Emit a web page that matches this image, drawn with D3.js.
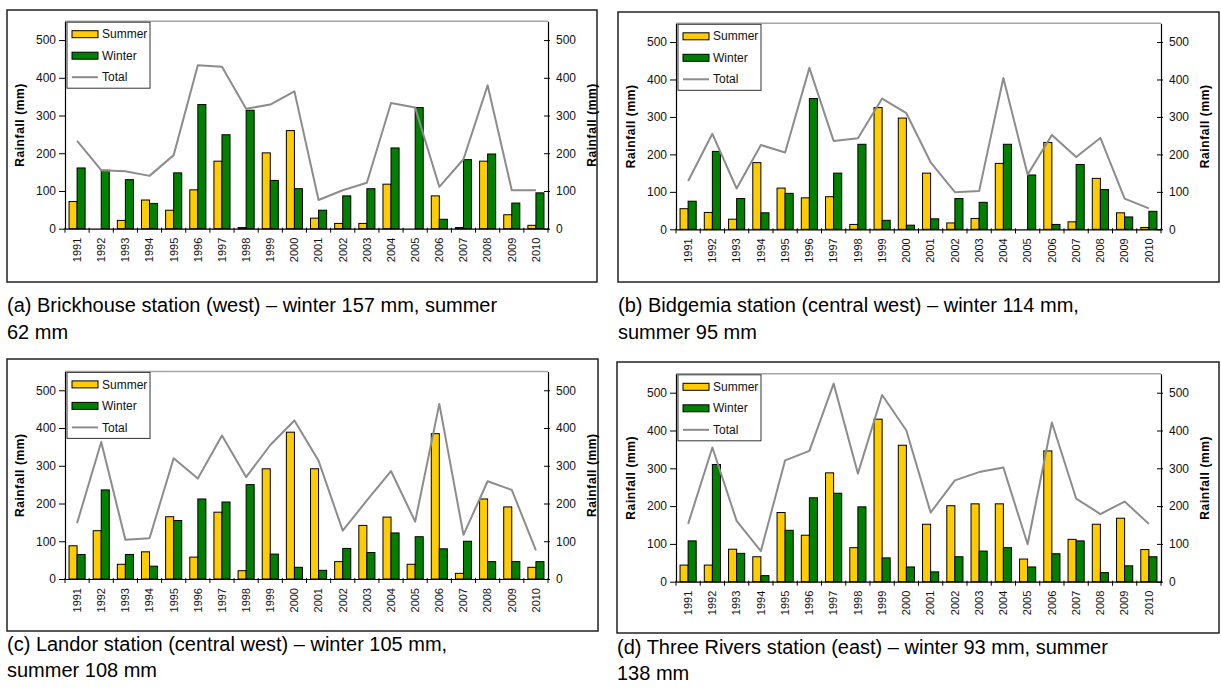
<!DOCTYPE html>
<html>
<head>
<meta charset="utf-8">
<script src="https://cdn.jsdelivr.net/npm/d3@7"></script>
<style>
  body { margin: 0; background: #fff; }
  svg { display: block; font-family: "Liberation Sans", Arial, sans-serif; }
</style>
</head>
<body>
<svg></svg>
<script>
const years = ["1991", "1992", "1993", "1994", "1995", "1996", "1997", "1998", "1999", "2000",
    "2001", "2002", "2003", "2004", "2005", "2006", "2007", "2008", "2009", "2010"];
const seriesNames = ["Summer", "Winter", "Total"];
const yTicks = [0, 100, 200, 300, 400, 500];

// (a) Brickhouse
const brickhouseSummer = [72, 0, 22, 76, 49, 103, 179, 3, 201, 260, 28, 14, 14, 118, 0, 87, 3, 179, 37, 9];
const brickhouseWinter = [161, 155, 130, 67, 148, 329, 249, 314, 128, 106, 49, 87, 106, 214, 321, 25, 183, 198, 68, 95];
const brickhouseTotal = [233, 155, 152, 140, 195, 433, 429, 318, 329, 364, 76, 102, 122, 333, 321, 111, 184, 380, 102, 102];

// (b) Bidgemia
const bidgemiaSummer = [55, 45, 27, 178, 110, 84, 87, 13, 325, 297, 150, 17, 29, 176, 0, 232, 20, 136, 44, 5];
const bidgemiaWinter = [75, 208, 82, 44, 96, 349, 150, 227, 24, 11, 28, 82, 72, 227, 145, 13, 173, 106, 33, 48];
const bidgemiaTotal = [129, 255, 109, 225, 205, 431, 236, 243, 349, 310, 179, 99, 102, 404, 146, 252, 193, 244, 82, 56];

// (c) Landor
const landorSummer = [88, 128, 39, 72, 165, 58, 177, 22, 292, 389, 292, 46, 142, 164, 39, 385, 15, 212, 191, 31];
const landorWinter = [65, 236, 65, 34, 155, 212, 204, 250, 66, 31, 23, 81, 70, 122, 112, 80, 100, 46, 46, 46];
const landorTotal = [148, 363, 104, 108, 320, 266, 380, 270, 355, 420, 313, 128, 208, 286, 152, 464, 117, 259, 236, 76];

// (d) Three Rivers
const threeRiversSummer = [44, 44, 86, 66, 183, 123, 288, 90, 430, 361, 152, 201, 206, 206, 60, 346, 112, 152, 168, 85];
const threeRiversWinter = [108, 310, 75, 16, 136, 222, 234, 198, 63, 39, 26, 66, 81, 90, 39, 74, 108, 24, 42, 66];
const threeRiversTotal = [153, 355, 161, 81, 321, 346, 524, 286, 494, 400, 183, 268, 290, 302, 99, 421, 220, 179, 212, 153];

const captions = [
    ["(a) Brickhouse station (west) \u2013 winter 157 mm, summer", "62 mm"],
    ["(b) Bidgemia station (central west) \u2013 winter 114 mm,", "summer 95 mm"],
    ["(c) Landor station (central west) \u2013 winter 105 mm,", "summer 108 mm"],
    ["(d) Three Rivers station (east) \u2013 winter 93 mm, summer", "138 mm"]
];

const colors = { Summer: "#ffcc00", Winter: "#008000", Total: "#8c8c8c" };

const width = 1221;
const height = 697;
const svg = d3.select("svg")
    .attr("width", width)
    .attr("height", height);

const panels = [
    { summer: brickhouseSummer, winter: brickhouseWinter, total: brickhouseTotal, caption: captions[0],
      frame: { x: 7, y: 10, w: 590, h: 272 }, plot: { l: 65, r: 548, t: 21.2, b: 228.7 }, cap: [312, 339] },
    { summer: bidgemiaSummer, winter: bidgemiaWinter, total: bidgemiaTotal, caption: captions[1],
      frame: { x: 618, y: 12, w: 601, h: 270 }, plot: { l: 676, r: 1161, t: 23.3, b: 229.3 }, cap: [312, 339] },
    { summer: landorSummer, winter: landorWinter, total: landorTotal, caption: captions[2],
      frame: { x: 7, y: 359, w: 591, h: 272 }, plot: { l: 65, r: 548, t: 371.4, b: 579 }, cap: [651, 677] },
    { summer: threeRiversSummer, winter: threeRiversWinter, total: threeRiversTotal, caption: captions[3],
      frame: { x: 617, y: 362, w: 602, h: 271 }, plot: { l: 676, r: 1161, t: 373.8, b: 581.7 }, cap: [654, 680] }
];

panels.forEach(drawPanel);

function drawPanel(p) {
    const g = svg.append("g");

    g.append("rect")
        .attr("x", p.frame.x)
        .attr("y", p.frame.y)
        .attr("width", p.frame.w)
        .attr("height", p.frame.h)
        .attr("fill", "none")
        .attr("stroke", "#222")
        .attr("stroke-width", 1.5);

    const x = d3.scaleBand()
        .domain(years)
        .range([p.plot.l, p.plot.r]);
    const bw = x.bandwidth();

    const xInner = d3.scaleBand()
        .domain(["Summer", "Winter"])
        .range([0, bw])
        .paddingInner(0)
        .paddingOuter(0.5);

    const y = d3.scaleLinear()
        .domain([0, 550])
        .range([p.plot.b, p.plot.t]);

    // plot area top border
    g.append("line")
        .attr("x1", p.plot.l)
        .attr("x2", p.plot.r)
        .attr("y1", y(550))
        .attr("y2", y(550))
        .attr("stroke", "#a6a6a6")
        .attr("stroke-width", 1.5);

    const rows = years.map((yr, i) => ({ year: yr, Summer: p.summer[i], Winter: p.winter[i], Total: p.total[i] }));

    // bars
    ["Summer", "Winter"].forEach(s => {
        g.append("g").selectAll("rect")
            .data(rows)
            .join("rect")
            .attr("x", d => x(d.year) + xInner(s))
            .attr("y", d => y(d[s]))
            .attr("width", xInner.bandwidth())
            .attr("height", d => y(0) - y(d[s]))
            .attr("fill", colors[s])
            .attr("stroke", "#000")
            .attr("stroke-width", 1)
            .attr("display", d => d[s] > 0 ? null : "none");
    });

    // total line
    g.append("path")
        .datum(rows)
        .attr("fill", "none")
        .attr("stroke", colors.Total)
        .attr("stroke-width", 2)
        .attr("stroke-linejoin", "round")
        .attr("d", d3.line()
            .x(d => x(d.year) + bw / 2)
            .y(d => y(d.Total)));

    // axes
    const left = g.append("g")
        .attr("transform", `translate(${p.plot.l},0)`)
        .call(d3.axisLeft(y).tickValues(yTicks).tickSize(6).tickSizeOuter(0).tickPadding(3));
    const right = g.append("g")
        .attr("transform", `translate(${p.plot.r},0)`)
        .call(d3.axisRight(y).tickValues(yTicks).tickSize(2).tickSizeOuter(0).tickPadding(6));
    right.selectAll(".tick line").attr("x1", -4);

    const bottom = g.append("g")
        .attr("transform", `translate(0,${p.plot.b})`)
        .call(d3.axisBottom(x).tickSize(0).tickSizeOuter(0));
    bottom.selectAll("text")
        .attr("transform", "rotate(-90)")
        .attr("x", -9)
        .attr("y", 0)
        .attr("dy", "0.35em")
        .attr("text-anchor", "end")
        .style("font-size", "11px");

    // category boundary ticks
    bottom.append("g").selectAll("line")
        .data(years.concat(["end"]))
        .join("line")
        .attr("x1", d => d === "end" ? x.range()[1] : x(d))
        .attr("x2", d => d === "end" ? x.range()[1] : x(d))
        .attr("y1", -1)
        .attr("y2", 4)
        .attr("stroke", "#000");

    [left, right].forEach(a => a.selectAll("text").style("font-size", "12px"));
    [left, right, bottom].forEach(a => {
        a.selectAll("text").attr("fill", "#111");
        a.select(".domain").attr("stroke", "#000").attr("stroke-width", 1.2);
        a.selectAll(".tick line").attr("stroke", "#000");
    });

    // axis titles
    const midY = (p.plot.t + p.plot.b) / 2;
    [p.plot.l - 45, p.plot.r + 44].forEach(tx => {
        g.append("text")
            .attr("transform", `translate(${tx},${midY}) rotate(-90)`)
            .attr("text-anchor", "middle")
            .attr("dy", "0.35em")
            .style("font-size", "12px")
            .style("font-weight", "bold")
            .style("letter-spacing", "0.6px")
            .text("Rainfall (mm)");
    });

    // legend
    const lg = g.append("g")
        .attr("transform", `translate(${p.plot.l + 2},${p.plot.t + 1})`);
    lg.append("rect")
        .attr("width", 83)
        .attr("height", 66)
        .attr("fill", "#fff")
        .attr("stroke", "#333")
        .attr("stroke-width", 1);
    const ly = d3.scalePoint().domain(seriesNames).range([12, 55]);
    seriesNames.forEach(s => {
        if (s === "Total") {
            lg.append("line")
                .attr("x1", 5).attr("x2", 31)
                .attr("y1", ly(s)).attr("y2", ly(s))
                .attr("stroke", colors.Total)
                .attr("stroke-width", 2);
        } else {
            lg.append("rect")
                .attr("x", 5).attr("y", ly(s) - 3.5)
                .attr("width", 26).attr("height", 7)
                .attr("fill", colors[s])
                .attr("stroke", "#000");
        }
        lg.append("text")
            .attr("x", 35)
            .attr("y", ly(s))
            .attr("dy", "0.35em")
            .style("font-size", "12px")
            .attr("fill", "#111")
            .text(s);
    });

    // caption
    g.append("g").selectAll("text")
        .data(p.caption)
        .join("text")
        .attr("x", p.frame.x)
        .attr("y", (d, i) => p.cap[i])
        .style("font-size", "20px")
        .attr("fill", "#000")
        .text(d => d);
}
</script>
</body>
</html>
